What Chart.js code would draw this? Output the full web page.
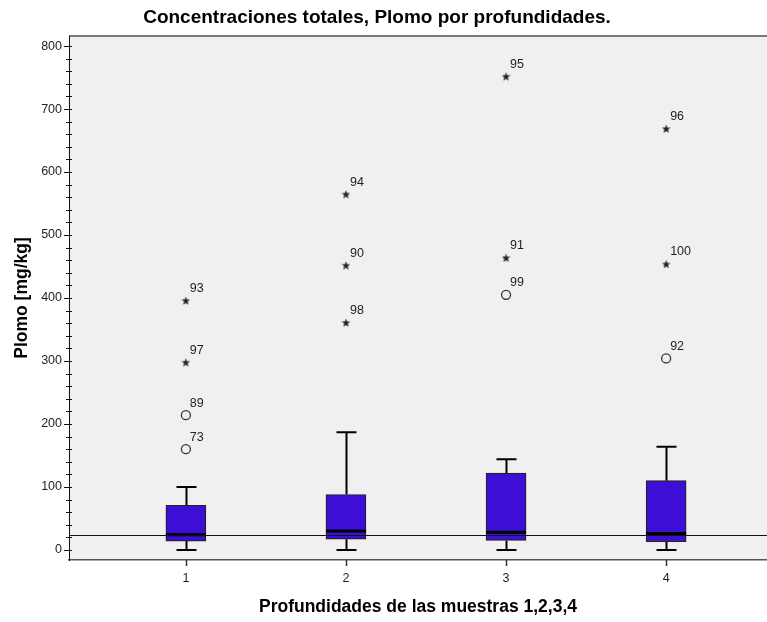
<!DOCTYPE html>
<html>
<head>
<meta charset="utf-8">
<script src="https://cdn.jsdelivr.net/npm/chart.js@4.4.1/dist/chart.umd.min.js"></script>
<style>
  html, body { margin: 0; padding: 0; background: #ffffff; }
  #wrap { width: 767px; height: 622px; }
</style>
</head>
<body>
<div id="wrap"><canvas id="c" width="767" height="622"></canvas></div>
<script>
// Box plot summary for lead concentration by sampling depth
const categories = [1, 2, 3, 4];
const categoryLabels = ['1', '2', '3', '4'];
const whiskerLow = [0, 0, 0, 0];
const q1 = [14, 17, 15, 13];
const median = [24, 30, 28, 26];
const q3 = [71, 88, 122, 110];
const whiskerHigh = [100, 187, 144, 164];

// Individual outliers (case number, depth group, value, extreme flag)
const outlierGroup = [1, 1, 1, 1, 2, 2, 2, 3, 3, 3, 4, 4, 4];
const outlierValue = [396, 298, 214, 160, 565, 452, 361, 752, 464, 405, 669, 454, 304];
const outlierCase = ['93', '97', '89', '73', '94', '90', '98', '95', '91', '99', '96', '100', '92'];
const outlierExtreme = [true, true, false, false, true, true, true, true, true, false, true, true, false];

// Horizontal reference level
const referenceValue = 24;

// Y axis tick values
const yMajorTicks = [0, 100, 200, 300, 400, 500, 600, 700, 800];

const FONT = '"Liberation Sans", Arial, sans-serif';
const INK = '#1e1e1e';

// Filled five-pointed star used as marker for extreme values
function makeStar(size, color) {
  const cv = document.createElement('canvas');
  cv.width = size; cv.height = size;
  const g = cv.getContext('2d');
  const c = size / 2, ro = size / 2, ri = ro * 0.42;
  g.beginPath();
  for (let k = 0; k < 10; k++) {
    const r = k % 2 === 0 ? ro : ri;
    const a = -Math.PI / 2 + k * Math.PI / 5;
    const px = c + r * Math.cos(a), py = c + 0.5 + r * Math.sin(a);
    if (k === 0) g.moveTo(px, py); else g.lineTo(px, py);
  }
  g.closePath();
  g.fillStyle = color;
  g.fill();
  return cv;
}
const starImg = makeStar(9, '#222');

const boxDecor = {
  id: 'boxDecor',
  beforeDraw(chart) {
    const { ctx, chartArea: a } = chart;
    ctx.save();
    ctx.fillStyle = '#f0f0f0';
    ctx.fillRect(a.left, a.top, a.right - a.left, a.bottom - a.top);
    ctx.strokeStyle = '#7a7a7a';
    ctx.lineWidth = 2;
    ctx.beginPath();
    ctx.moveTo(a.left, a.top);
    ctx.lineTo(a.right, a.top);
    ctx.stroke();
    ctx.restore();
  },
  beforeDatasetsDraw(chart) {
    const { ctx } = chart;
    const xs = chart.scales.x, ys = chart.scales.y;
    ctx.save();
    ctx.strokeStyle = '#000';
    ctx.lineWidth = 2;
    categories.forEach((c, i) => {
      const x = Math.round(xs.getPixelForValue(c)) + 0.5;
      const yHi = ys.getPixelForValue(whiskerHigh[i]);
      const yLo = ys.getPixelForValue(whiskerLow[i]);
      const yQ1 = ys.getPixelForValue(q1[i]);
      const yQ3 = ys.getPixelForValue(q3[i]);
      ctx.beginPath();
      ctx.moveTo(x, yQ3); ctx.lineTo(x, yHi);
      ctx.moveTo(x, yQ1); ctx.lineTo(x, yLo);
      ctx.moveTo(x - 10, yHi); ctx.lineTo(x + 10, yHi);
      ctx.moveTo(x - 10, yLo); ctx.lineTo(x + 10, yLo);
      ctx.stroke();
    });
    ctx.restore();
  },
  afterDatasetsDraw(chart) {
    const { ctx, chartArea: a } = chart;
    const xs = chart.scales.x, ys = chart.scales.y;
    ctx.save();
    // medians
    ctx.strokeStyle = '#000';
    ctx.lineWidth = 3;
    categories.forEach((c, i) => {
      const x = xs.getPixelForValue(c);
      const y = ys.getPixelForValue(median[i]);
      ctx.beginPath();
      ctx.moveTo(x - 20, y); ctx.lineTo(x + 20, y);
      ctx.stroke();
    });
    // reference line
    const yr = Math.round(ys.getPixelForValue(referenceValue)) + 0.5;
    ctx.lineWidth = 1.2;
    ctx.strokeStyle = '#111';
    ctx.beginPath();
    ctx.moveTo(a.left, yr); ctx.lineTo(a.right, yr);
    ctx.stroke();
    // outlier case labels
    ctx.fillStyle = INK;
    ctx.font = '12.5px ' + FONT;
    ctx.textAlign = 'left';
    ctx.textBaseline = 'middle';
    outlierValue.forEach((v, i) => {
      const x = xs.getPixelForValue(outlierGroup[i]);
      const y = ys.getPixelForValue(v);
      ctx.fillText(outlierCase[i], x + 4, y - 12);
    });
    ctx.restore();
  },
  afterDraw(chart) {
    const { ctx, chartArea: a } = chart;
    const xs = chart.scales.x, ys = chart.scales.y;
    ctx.save();
    // y axis tick marks (major and minor)
    ctx.strokeStyle = '#111';
    ctx.lineWidth = 1;
    ys.ticks.forEach(t => {
      const y = Math.round(ys.getPixelForValue(t.value)) + 0.5;
      const major = t.value % 100 === 0;
      ctx.beginPath();
      ctx.moveTo(a.left - (major ? 5 : 3), y);
      ctx.lineTo(a.left + 3, y);
      ctx.stroke();
    });
    // x axis tick marks
    ctx.lineWidth = 1.5;
    ctx.strokeStyle = '#333';
    categories.forEach(c => {
      const x = Math.round(xs.getPixelForValue(c)) + 0.5;
      ctx.beginPath();
      ctx.moveTo(x, a.bottom); ctx.lineTo(x, a.bottom + 6);
      ctx.stroke();
    });
    // titles
    ctx.fillStyle = '#000';
    ctx.textAlign = 'center';
    ctx.textBaseline = 'middle';
    ctx.font = 'bold 19px ' + FONT;
    ctx.fillText('Concentraciones totales, Plomo por profundidades.', 377, 18);
    ctx.font = 'bold 17.5px ' + FONT;
    ctx.fillText('Profundidades de las muestras 1,2,3,4', 418, 607);
    ctx.translate(22, (a.top + a.bottom) / 2);
    ctx.rotate(-Math.PI / 2);
    ctx.fillText('Plomo [mg/kg]', 0, 0);
    ctx.restore();
  }
};

new Chart(document.getElementById('c'), {
  type: 'bar',
  data: {
    datasets: [
      {
        type: 'bar',
        data: categories.map((c, i) => ({ x: c, y: [q1[i], q3[i]] })),
        backgroundColor: '#3d0fd6',
        borderColor: '#222',
        borderWidth: 1.2,
        borderSkipped: false,
        barThickness: 40,
        grouped: false
      },
      {
        type: 'scatter',
        data: outlierValue.map((v, i) => ({ x: outlierGroup[i], y: v })),
        pointStyle: ctx => outlierExtreme[ctx.dataIndex] ? starImg : 'circle',
        pointRadius: 4.5,
        backgroundColor: 'rgba(0,0,0,0)',
        borderColor: '#333',
        borderWidth: 1.3
      }
    ]
  },
  options: {
    responsive: false,
    animation: false,
    devicePixelRatio: 1,
    layout: { autoPadding: false, padding: { top: 36, left: 0, right: 0, bottom: 0 } },
    plugins: { legend: { display: false }, tooltip: { enabled: false }, title: { display: false } },
    scales: {
      x: {
        type: 'linear',
        min: 0.27,
        max: 4.63,
        offset: false,
        afterBuildTicks: s => { s.ticks = categories.map(v => ({ value: v })); },
        afterFit: s => { s.height = 62; },
        ticks: {
          callback: (v) => categoryLabels[categories.indexOf(v)] ?? '',
          font: { family: FONT, size: 12.5 },
          color: INK,
          padding: 5,
          maxRotation: 0
        },
        grid: { display: true, drawOnChartArea: false, drawTicks: true, tickLength: 6, color: 'rgba(0,0,0,0)' },
        border: { display: true, color: '#555', width: 1.5 }
      },
      y: {
        type: 'linear',
        min: -16,
        max: 816,
        afterBuildTicks: s => {
          const t = [];
          for (let v = 0; v <= 800; v += 20) t.push({ value: v });
          s.ticks = t;
        },
        afterFit: s => { s.width = 69; },
        ticks: {
          callback: v => (yMajorTicks.includes(v) ? String(v) : ''),
          font: { family: FONT, size: 12.5 },
          color: INK,
          padding: 2,
          autoSkip: false
        },
        grid: { display: true, drawOnChartArea: false, drawTicks: true, tickLength: 5, color: 'rgba(0,0,0,0)' },
        border: { display: true, color: '#111', width: 1 }
      }
    }
  },
  plugins: [boxDecor]
});
</script>
</body>
</html>
